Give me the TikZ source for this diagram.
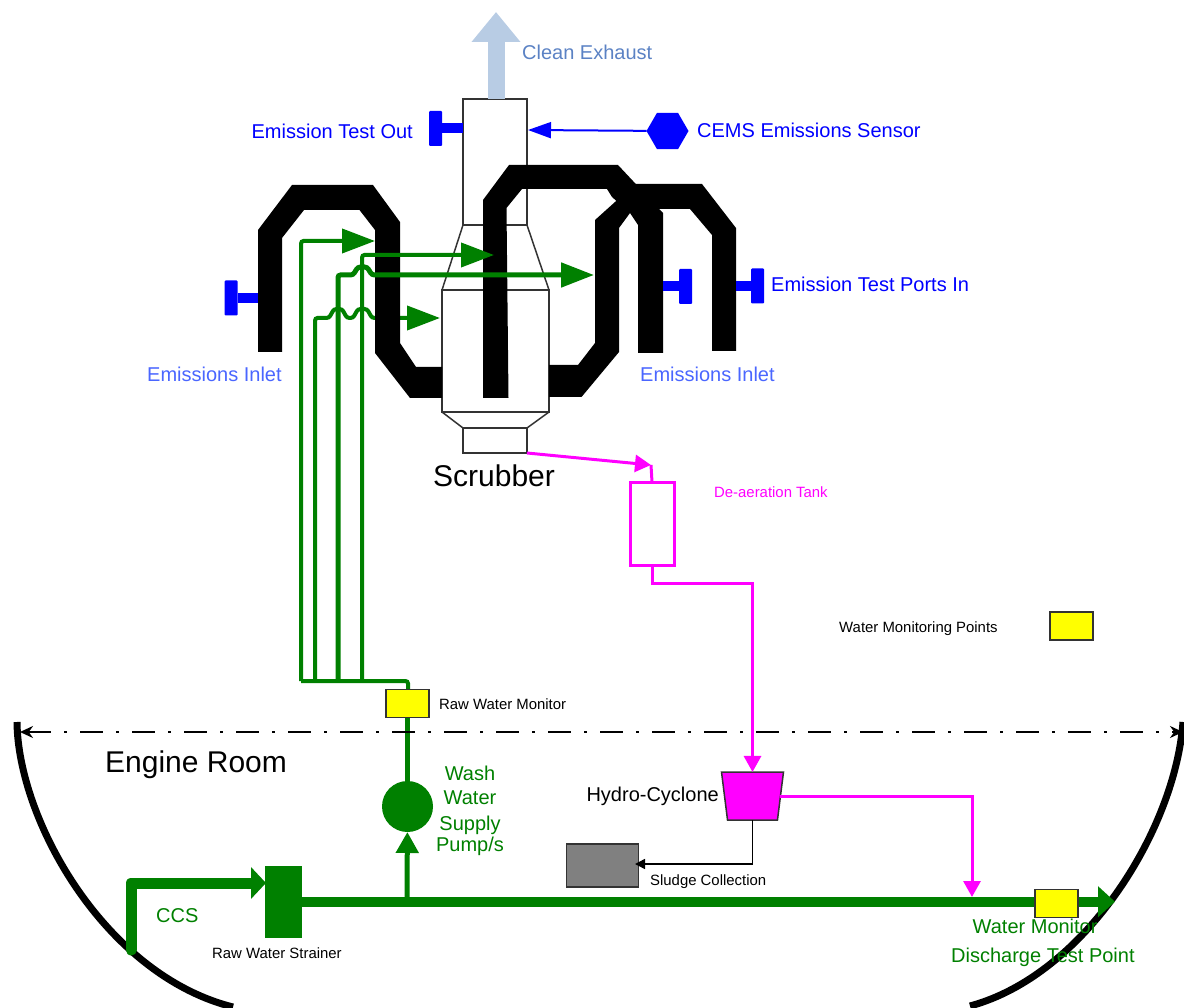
\documentclass[tikz,border=0pt]{standalone}
\usepackage{fontspec}
\setmainfont{Liberation Sans}
\usepackage{xcolor}
\usetikzlibrary{arrows.meta,positioning,shapes.geometric}
\definecolor{pipegreen}{HTML}{008000}
\definecolor{testblue}{HTML}{0000FF}
\definecolor{inletblue}{HTML}{4A66FF}
\definecolor{exhausttext}{HTML}{5B82C4}
\definecolor{exhaustarrow}{HTML}{B8CCE4}
\definecolor{shell}{HTML}{333333}
\definecolor{tankpink}{HTML}{FF00FF}
\definecolor{monyellow}{HTML}{FFFF00}
\tikzset{
  lbl/.style={inner sep=0pt,font=\fontsize{20}{24}\selectfont},
  small/.style={inner sep=0pt,font=\fontsize{14.9}{18}\selectfont},
  big/.style={inner sep=0pt,font=\fontsize{30}{36}\selectfont},
  part/.style={draw=shell,line width=1.5pt,outer sep=0pt,inner sep=0pt},
  monitor/.style={part,fill=monyellow,minimum width=43pt,minimum height=28pt},
  duct/.style={fill=black},
  tbar/.style={fill=testblue,inner sep=0pt,outer sep=0pt,minimum width=13pt,minimum height=35pt,rounded corners=1pt},
  tstem/.style={draw=testblue,line width=10pt},
  feed/.style={draw=pipegreen,line width=4pt,rounded corners=2.5pt},
  feedtip/.style={-{Triangle[length=33pt,width=24pt]}},
  magline/.style={draw=tankpink,line width=3pt},
  magtip/.style={-{Triangle[length=16pt,width=17pt]}},
  hull/.style={draw=black,line width=7pt}
}
\begin{document}
\begin{tikzpicture}[x=1pt,y=-1pt]
\useasboundingbox (0,0) rectangle (1184,1008);

%Scrubber
\node [part,minimum width=64pt,minimum height=126pt] (stack) at (495,162) {};
\node [part,minimum width=107pt,minimum height=122pt] (body) at (495.5,351) {};
\node [part,minimum width=64pt,minimum height=25pt] (foot) at (495,440.5) {};
\draw [shell,line width=1.5pt] (stack.south west) -- (body.north west);
\draw [shell,line width=1.5pt] (stack.south east) -- (body.north east);
\draw [shell,line width=1.5pt] (body.south west) -- (foot.north west);
\draw [shell,line width=1.5pt] (body.south east) -- (foot.north east);

%Exhaust
\coordinate (exhtop) at (496,12);
\draw [exhaustarrow,line width=17pt,-{Triangle[length=30pt,width=47pt]}] (496,99) -- (exhtop);
\node [lbl,anchor=west,text=exhausttext] (exhlbl) at (522,52) {Clean Exhaust};

%Lowest feed goes under the ducts
\coordinate (hdr1) at (301,681);
\coordinate (hdr2) at (315,681);
\coordinate (hdr3) at (338,681);
\coordinate (hdr4) at (362,681);
\coordinate (hdr5) at (408,681);
\coordinate (tip1) at (375,241);
\coordinate (tip2) at (440,318);
\coordinate (tip3) at (594,275);
\coordinate (tip4) at (494,255);
\draw [feed,feedtip] (hdr2) -- (315,318) -- (329,318) -- (334,309) -- (342,309) -- (347,318) -- (353,318) -- (358,309) -- (367,309) -- (372,318) -- (tip2);

%Ducts
\fill [duct] (258,352) -- (258,230) -- (292,185) -- (373,185) -- (400,222) -- (400,343) -- (416,367) -- (442,367) -- (442,398) -- (410,398) -- (375,353) -- (375,230) -- (359.5,210) -- (304,210) -- (282,238) -- (282,352) -- cycle;
\fill [duct] (483,398) -- (483,200) -- (509,165) -- (618,165) -- (663,213) -- (663,353) -- (638,353) -- (638,225) -- (630,213) -- (612,197) -- (607,189) -- (522,189) -- (506.5,208) -- (508.5,398) -- cycle;
\fill [duct] (549,365) -- (578,365) -- (595,343) -- (595,220) -- (635,184) -- (702,184) -- (736,228) -- (736,351) -- (712,351) -- (712,235) -- (690,209) -- (659,209) -- (630,213) -- (619,228) -- (619,352) -- (581.5,397) -- (549,397) -- cycle;

%Other feeds
\draw [feed,feedtip] (hdr1) |- (tip1);
\draw [feed,feedtip,line width=5pt] (hdr3) -- (338,275) -- (353,275) -- (358,267) -- (367,267) -- (372,275) -- (tip3);
\draw [feed,feedtip] (hdr4) |- (tip4);
\draw [feed] (hdr1) -- (hdr5) -- (408,690);

%Test ports
\node [tbar] (outbar) at (435.5,128.5) {};
\node [tbar] (inbarl) at (231,298) {};
\node [tbar] (inbarr) at (685.5,286.5) {};
\node [tbar] (inbarf) at (757.5,286) {};
\coordinate (portl) at (258,298);
\coordinate (portr) at (663,286.5);
\coordinate (portf) at (736,286);
\draw [tstem] (outbar) -- (stack.west |- outbar);
\draw [tstem] (inbarl) -- (portl);
\draw [tstem] (inbarr) -- (portr);
\draw [tstem] (inbarf) -- (portf);
\node [lbl,anchor=east,text=testblue] (outlbl) at (413,131) {Emission Test Out};
\node [lbl,anchor=west,text=testblue] (inlbl) at (771,284) {Emission Test Ports In};
\node [lbl,anchor=west,text=inletblue] (inletl) at (147,374) {Emissions Inlet};
\node [lbl,anchor=west,text=inletblue] (inletr) at (640,374) {Emissions Inlet};
\node [big,anchor=west] (scrublbl) at (433,476) {Scrubber};

%Sensor
\node [regular polygon,regular polygon sides=6,fill=testblue,minimum size=42pt,inner sep=0pt,outer sep=0pt] (sensor) at (667.5,131) {};
\coordinate (sensin) at (528,130);
\draw [testblue,line width=2pt,-{Triangle[length=23pt,width=16pt]}] (sensor) -- (sensin);
\node [lbl,anchor=west,text=testblue] (senslbl) at (697,130) {CEMS Emissions Sensor};

%Wash water side
\draw [hull] (17,722) .. controls (18,820) and (105,975) .. (233,1007);
\draw [hull] (1183,722) .. controls (1175,830) and (1085,975) .. (970,1006);
\coordinate (roomleft) at (20,732);
\coordinate (roomright) at (1183,732);
\node [circle,fill=pipegreen,minimum size=51pt,inner sep=0pt,outer sep=0pt] (pump) at (407.5,806.5) {};
\node [monitor] (rawmon) at (407.5,703.5) {};
\draw [pipegreen,line width=5pt] (rawmon) -- (pump);
\draw [black,line width=2pt,dash pattern=on 23pt off 13pt on 3pt off 13pt,{Stealth[length=13pt,width=12pt]}-{Stealth[length=13pt,width=12pt]}] (roomleft) -- (roomright);
\node [big,anchor=west] (roomlbl) at (105,765) {Engine Room};
\node [small,anchor=west] (rawlbl) at (439,704) {Raw Water Monitor};

\node [fill=pipegreen,minimum width=37pt,minimum height=72pt,inner sep=0pt,outer sep=0pt] (strainer) at (283.5,901.7) {};
\coordinate (ccsin) at (131,950);
\coordinate (ccsend) at (266,883);
\draw [pipegreen,line width=11pt,line join=round,line cap=round,-{Triangle[length=15pt,width=31pt]}] (ccsin) |- (ccsend);
\coordinate (mainend) at (1115,901.7);
\coordinate (mainjoin) at (407,901.7);
\draw [pipegreen,line width=10pt,-{Triangle[length=17pt,width=30pt]}] (strainer) -- (mainend);
\draw [pipegreen,line width=5pt,-{Triangle[length=21pt,width=22pt]}] (mainjoin) -- (pump);
\node [lbl,anchor=west,text=pipegreen] (ccslbl) at (156,916) {CCS};
\node [small,anchor=west] (strlbl) at (212,953) {Raw Water Strainer};
\node [lbl,text=pipegreen] (wash1) at (470,773) {Wash};
\node [lbl,text=pipegreen] (wash2) at (470,798) {Water};
\node [lbl,text=pipegreen] (wash3) at (470,825) {Supply};
\node [lbl,text=pipegreen] (wash4) at (470,846) {Pump/s};

%Discharge side
\node [part,magline,minimum width=44pt,minimum height=83pt] (tank) at (652,523.5) {};
\node [trapezium,trapezium angle=83.5,trapezium stretches=true,shape border rotate=180,minimum width=62pt,minimum height=48pt,fill=tankpink,draw=shell,line width=1.5pt,inner sep=0pt,outer sep=0pt] (cyclone) at (752.5,796) {\phantom{x}};
\coordinate (tankin) at (651,465);
\coordinate (mixin) at (972,897);
\coordinate (sludgein) at (635,864);
\draw [magline,magtip] (foot.south east) -- (tankin);
\draw [magline] (tank.north) -- (tankin);
\draw [magline,magtip] (tank.south) -- ++(0,18) -| (cyclone.north);
\draw [magline,magtip] (cyclone.east) -| (mixin);
\node [part,fill=gray,minimum width=72pt,minimum height=43pt] (sludge) at (602.5,865.5) {};
\draw [black,line width=1.5pt,-{Triangle[length=10pt,width=10pt]}] (cyclone.south) |- (sludgein);
\node [monitor] (outmon) at (1056.5,903.5) {};
\node [monitor] (legend) at (1071.5,626) {};
\node [small,anchor=west,text=tankpink] (tanklbl) at (714,492) {De-aeration Tank};
\node [small,anchor=west] (leglbl) at (839,629) {Water Monitoring Points};
\node [small,anchor=west] (sludlbl) at (650,882) {Sludge Collection};
\node [lbl,anchor=east] (cyclbl) at (719,796) {Hydro-Cyclone};
\node [lbl,anchor=west,text=pipegreen] (outlbl1) at (972.5,926) {Water Monitor};
\node [lbl,anchor=west,text=pipegreen] (outlbl2) at (951,957) {Discharge Test Point};
\end{tikzpicture}
\end{document}
